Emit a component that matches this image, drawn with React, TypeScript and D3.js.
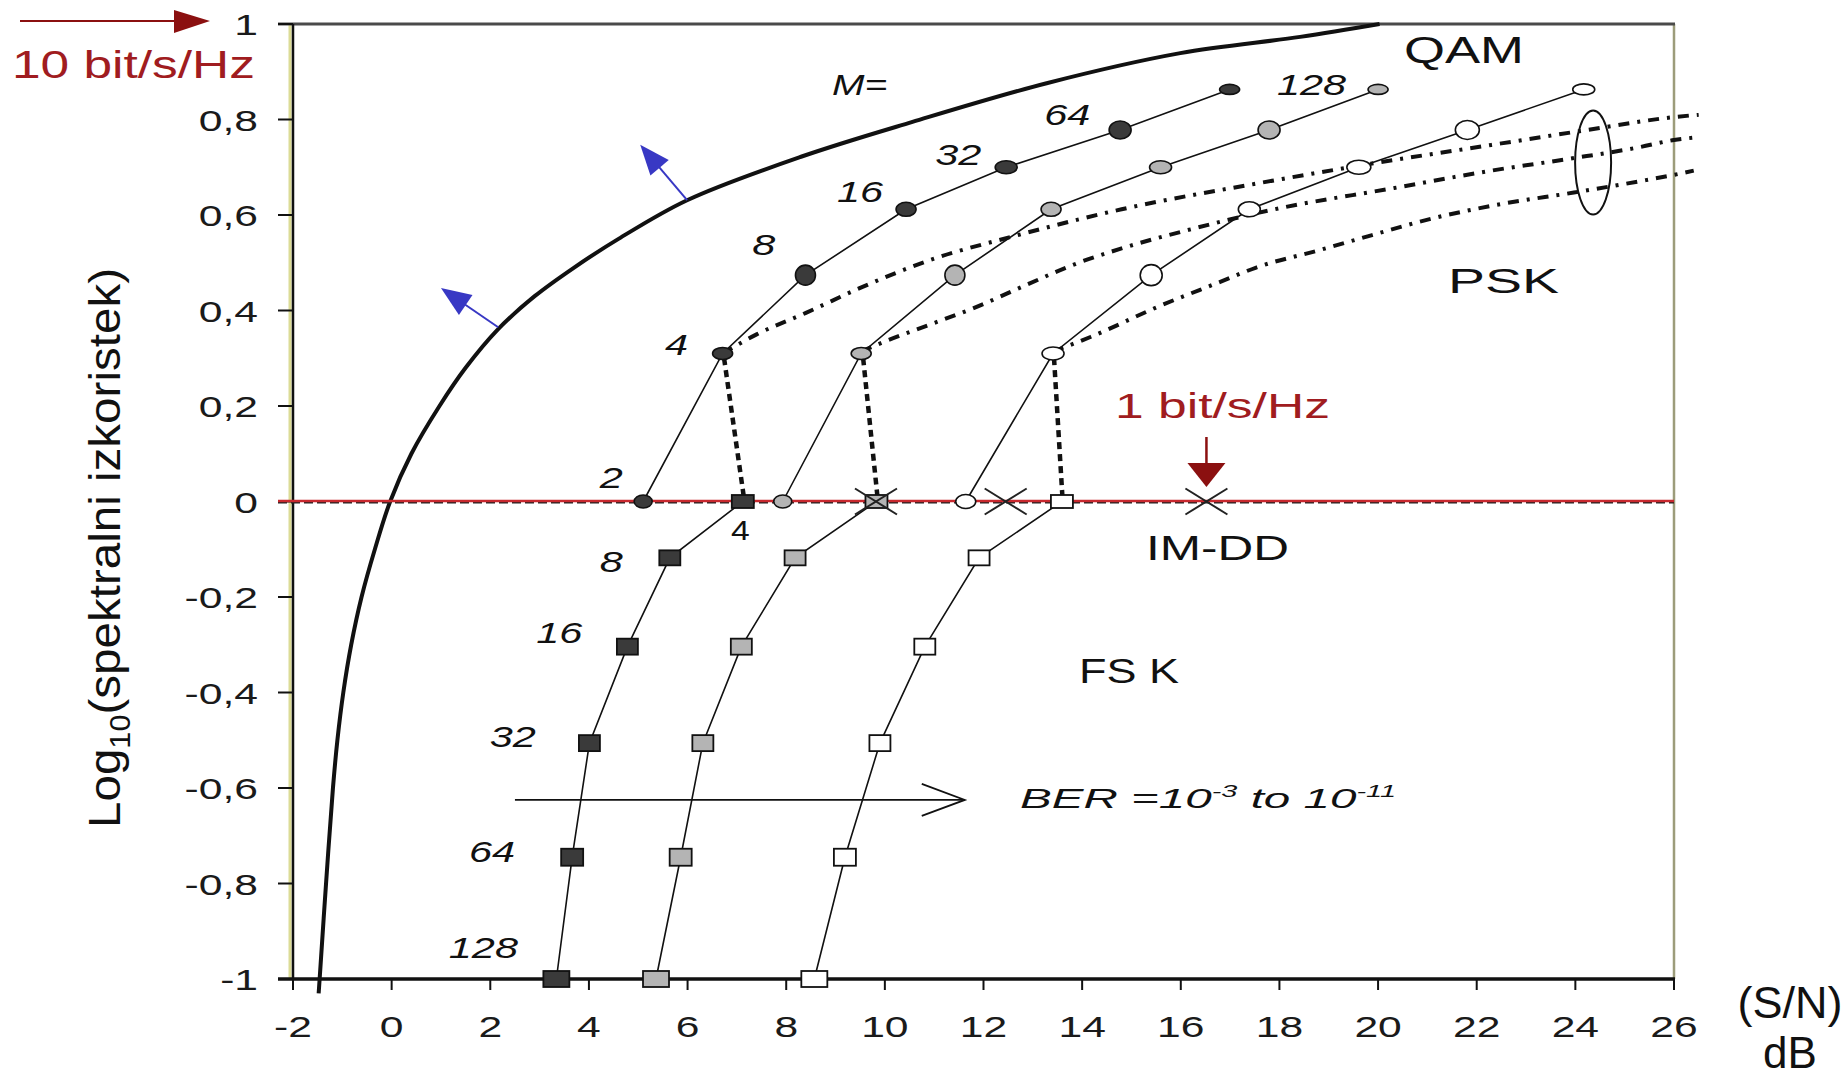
import React from 'react';
import * as d3 from 'd3';

// ---------- data ----------
const X_TICKS = [-2, 0, 2, 4, 6, 8, 10, 12, 14, 16, 18, 20, 22, 24, 26];
const Y_TICKS = [-1, -0.8, -0.6, -0.4, -0.2, 0, 0.2, 0.4, 0.6, 0.8, 1];

const M_QAM = ['2', '4', '8', '16', '32', '64', '128'];
const QAM_Y = [0, 0.31, 0.474, 0.612, 0.7, 0.778, 0.863];
const QAM_X_DARK = [5.1, 6.71, 8.39, 10.43, 12.46, 14.77, 16.99];
const QAM_X_GRAY = [7.93, 9.52, 11.42, 13.37, 15.59, 17.79, 20.0];
const QAM_X_WHITE = [11.64, 13.41, 15.4, 17.39, 19.61, 21.81, 24.17];

const M_FSK = ['4', '8', '16', '32', '64', '128'];
const FSK_Y = [0, -0.118, -0.304, -0.506, -0.745, -1.0];
const FSK_X_DARK = [7.12, 5.64, 4.78, 4.01, 3.66, 3.34];
const FSK_X_GRAY = [9.83, 8.18, 7.09, 6.31, 5.86, 5.36];
const FSK_X_WHITE = [13.59, 11.91, 10.81, 9.9, 9.19, 8.57];

const IMDD_X = [9.82, 12.45, 16.52];

const PSK_DARK: [number, number][] = [
  [6.71, 0.31], [7.4, 0.35], [8.4, 0.395], [9.56, 0.45], [10.9, 0.505], [12.7, 0.558],
  [14.8, 0.612], [17.6, 0.667], [19.6, 0.703], [22.5, 0.75], [24.05, 0.775], [26.0, 0.805], [26.5, 0.81],
];
const PSK_GRAY: [number, number][] = [
  [9.52, 0.314], [10.0, 0.335], [10.9, 0.37], [11.8, 0.405], [12.9, 0.455], [13.8, 0.495],
  [14.8, 0.53], [16.2, 0.57], [17.9, 0.612], [20.3, 0.656], [22.3, 0.693], [23.9, 0.718],
  [25.3, 0.742], [26.0, 0.757], [26.4, 0.762],
];
const PSK_WHITE: [number, number][] = [
  [13.41, 0.314], [14.18, 0.345], [15.54, 0.408], [16.8, 0.46], [17.53, 0.49], [18.83, 0.527],
  [19.88, 0.558], [21.11, 0.593], [22.5, 0.623], [23.97, 0.647], [25.43, 0.673], [26.0, 0.684], [26.4, 0.693],
];

// QPSK -> 4-FSK links
const LINKS: [number, number][][] = [
  [[6.74, 0.3], [7.14, 0.01]],
  [[9.56, 0.3], [9.85, 0.01]],
  [[13.43, 0.3], [13.6, 0.01]],
];

// Shannon bound
const SHANNON: [number, number][] = [
  [-1.48, -1.03], [-1.46, -1.0], [-1.33, -0.8], [-1.19, -0.6], [-1.1, -0.5], [-0.98, -0.4],
  [-0.82, -0.3], [-0.61, -0.2], [-0.34, -0.1], [-0.03, 0.0], [0.4, 0.1], [0.97, 0.2],
  [1.5, 0.28], [2.15, 0.36], [2.9, 0.43], [3.7, 0.49], [4.6, 0.55], [5.99, 0.631],
  [8.3, 0.722], [10.56, 0.795], [13.28, 0.876], [15.99, 0.939], [18.42, 0.973], [20.03, 1.0],
];

// ---------- styles ----------
const FONT = '"Liberation Sans", Arial, Helvetica, sans-serif';
const QAM_RX = [9, 10, 10, 10, 11, 11, 10];
const QAM_RY = [6.5, 6, 10, 7, 6.5, 9, 5];
const FSK_W = [22, 21, 21, 21, 22, 26];
const FSK_H = [13, 15, 16, 16, 17, 16];
const DARK = '#3a3a3a';
const GRAY = '#b4b4b4';
const WHITE = '#ffffff';
const RED = '#a01c20';
const BLUE = '#3838c4';

const W = 1848;
const H = 1079;
const L = 293, R = 1674, T = 24, B = 979;

const x = d3.scaleLinear().domain([-2, 26]).range([L, R]);
const y = d3.scaleLinear().domain([-1, 1]).range([B, T]);

const line = d3.line<[number, number]>().x(d => x(d[0])).y(d => y(d[1]));
const smooth = d3.line<[number, number]>().x(d => x(d[0])).y(d => y(d[1])).curve(d3.curveCatmullRom.alpha(0.5));
const mono = d3.line<[number, number]>().x(d => x(d[0])).y(d => y(d[1])).curve(d3.curveMonotoneX);

function SText(p: { x: number; y: number; sx?: number; size: number; anchor?: string; italic?: boolean; fill?: string; children: any }) {
  return (
    <text
      transform={`translate(${p.x},${p.y}) scale(${p.sx ?? 1},1)`}
      fontSize={p.size}
      textAnchor={p.anchor ?? 'start'}
      fontStyle={p.italic ? 'italic' : 'normal'}
      fill={p.fill ?? '#111'}
      fontFamily={FONT}
    >
      {p.children}
    </text>
  );
}

function Arrow({ x1, y1, x2, y2, color, len = 30, half = 12, width = 2 }: any) {
  const dx = x2 - x1, dy = y2 - y1;
  const d = Math.hypot(dx, dy);
  const ux = dx / d, uy = dy / d;
  const bx = x2 - ux * len, by = y2 - uy * len;
  const px = -uy, py = ux;
  return (
    <g>
      <line x1={x1} y1={y1} x2={bx + ux * 4} y2={by + uy * 4} stroke={color} strokeWidth={width} />
      <polygon points={`${x2},${y2} ${bx + px * half},${by + py * half} ${bx - px * half},${by - py * half}`} fill={color} />
    </g>
  );
}

export default function App() {
  const qamSeries = [
    { xs: QAM_X_DARK, fill: DARK, grow: 0 },
    { xs: QAM_X_GRAY, fill: GRAY, grow: 0 },
    { xs: QAM_X_WHITE, fill: WHITE, grow: 1 },
  ];
  const fskSeries = [
    { xs: FSK_X_DARK, fill: DARK },
    { xs: FSK_X_GRAY, fill: GRAY },
    { xs: FSK_X_WHITE, fill: WHITE },
  ];
  const pskLines = [PSK_DARK, PSK_GRAY, PSK_WHITE];
  const y0 = y(0);

  return (
    <svg width={W} height={H} style={{ position: 'absolute', left: 0, top: 0, background: '#fff' }} fontFamily={FONT}>
      <rect x={0} y={0} width={W} height={H} fill="#fff" />

      {/* frame */}
      <line x1={L - 3} y1={T} x2={L - 3} y2={B} stroke="#dcdc96" strokeWidth={3} />
      <line x1={R} y1={T} x2={R} y2={B} stroke="#9c9c7a" strokeWidth={2.5} />
      <line x1={L - 15} y1={T} x2={R + 1} y2={T} stroke="#4a4a4a" strokeWidth={3} />
      <line x1={L} y1={T} x2={L} y2={B} stroke="#111" strokeWidth={2.5} />
      <line x1={L - 15} y1={B} x2={R + 1} y2={B} stroke="#111" strokeWidth={3.5} />

      {Y_TICKS.map(t => (
        <g key={'yt' + t}>
          <line x1={L - 15} x2={L} y1={y(t)} y2={y(t)} stroke="#111" strokeWidth={2} />
          <SText x={258} y={y(t) + 11} size={30} sx={1.42} anchor="end" fill="#1a1a1a">
            {String(Math.round(t * 10) / 10).replace('.', ',')}
          </SText>
        </g>
      ))}
      {X_TICKS.map(t => (
        <g key={'xt' + t}>
          <line x1={x(t)} x2={x(t)} y1={B} y2={B + 11} stroke="#111" strokeWidth={2} />
          <SText x={x(t)} y={1037} size={30} sx={1.42} anchor="middle" fill="#1a1a1a">
            {String(t)}
          </SText>
        </g>
      ))}

      {/* axis titles */}
      <text transform="translate(120,548) rotate(-90)" textAnchor="middle" fontSize={45} fill="#111"
        textLength={560} lengthAdjust="spacingAndGlyphs">
        Log<tspan fontSize={29} dy={10}>10</tspan><tspan dy={-10}>(spektralni izkoristek)</tspan>
      </text>
      <text x={1790} y={1018} textAnchor="middle" fontSize={45} fill="#111">(S/N)</text>
      <text x={1790} y={1068} textAnchor="middle" fontSize={44} fill="#111">dB</text>

      {/* Shannon bound */}
      <path d={smooth(SHANNON) || ''} fill="none" stroke="#111" strokeWidth={4} strokeLinejoin="round" />

      {/* FSK lines */}
      {fskSeries.map((s, i) => (
        <path key={'fl' + i} d={line(s.xs.map((v, j) => [v, FSK_Y[j]] as [number, number])) || ''} fill="none" stroke="#111" strokeWidth={1.6} />
      ))}
      {/* QAM lines */}
      {qamSeries.map((s, i) => (
        <path key={'ql' + i} d={line(s.xs.map((v, j) => [v, QAM_Y[j]] as [number, number])) || ''} fill="none" stroke="#111" strokeWidth={1.6} />
      ))}
      {/* PSK dash-dot lines */}
      {pskLines.map((p, i) => (
        <path key={'pl' + i} d={mono(p) || ''} fill="none" stroke="#111" strokeWidth={4} strokeDasharray="11,8,3,8" />
      ))}
      {/* QPSK to 4-FSK links */}
      {LINKS.map((p, i) => (
        <path key={'lk' + i} d={line(p) || ''} fill="none" stroke="#111" strokeWidth={4.5} strokeDasharray="7,5" />
      ))}

      {/* zero line */}
      <line x1={L - 15} x2={R} y1={y0 + 1} y2={y0 + 1} stroke="#222" strokeWidth={2} strokeDasharray="9,4" />
      <line x1={L - 15} x2={R} y1={y0 - 0.5} y2={y0 - 0.5} stroke="#c8282e" strokeWidth={2.4} />

      {/* FSK markers */}
      {fskSeries.map((s, i) => s.xs.map((v, j) => (
        <rect key={'fm' + i + '-' + j} x={x(v) - FSK_W[j] / 2} y={y(FSK_Y[j]) - FSK_H[j] / 2} width={FSK_W[j]} height={FSK_H[j]}
          fill={s.fill} stroke="#111" strokeWidth={1.8} />
      )))}
      {/* QAM markers */}
      {qamSeries.map((s, i) => s.xs.map((v, j) => (
        <ellipse key={'qm' + i + '-' + j} cx={x(v)} cy={y(QAM_Y[j])} rx={QAM_RX[j] + s.grow} ry={QAM_RY[j] + s.grow * 0.5}
          fill={s.fill} stroke="#111" strokeWidth={1.6} />
      )))}

      {/* IM-DD crosses */}
      {IMDD_X.map((v, i) => (
        <g key={'x' + i} stroke="#222" strokeWidth={2}>
          <line x1={x(v) - 21} y1={y0 - 13} x2={x(v) + 21} y2={y0 + 13} />
          <line x1={x(v) - 21} y1={y0 + 13} x2={x(v) + 21} y2={y0 - 13} />
        </g>
      ))}

      {/* ellipse around PSK curves */}
      <ellipse cx={x(24.36)} cy={y(0.71)} rx={18} ry={52} fill="none" stroke="#111" strokeWidth={2} />

      {/* M labels, QAM side */}
      <SText x={x(8.93)} y={y(0.851)} size={30} sx={1.3} italic>M=</SText>
      {[
        [4.22, 0.028], [5.54, 0.307], [7.31, 0.516], [9.03, 0.627], [11.02, 0.705], [13.23, 0.789], [17.95, 0.851],
      ].map((p, i) => (
        <SText key={'qlab' + i} x={x(p[0])} y={y(p[1])} size={30} sx={1.38} italic>{M_QAM[i]}</SText>
      ))}
      {/* M labels, FSK side */}
      <SText x={x(6.88)} y={y(-0.081)} size={28} sx={1.2}>{M_FSK[0]}</SText>
      {[
        [4.22, -0.148], [2.93, -0.296], [1.99, -0.514], [1.57, -0.755], [1.16, -0.956],
      ].map((p, i) => (
        <SText key={'flab' + i} x={x(p[0])} y={y(p[1])} size={30} sx={1.38} italic>{M_FSK[i + 1]}</SText>
      ))}

      {/* region labels */}
      <text x={1404} y={63} fontSize={37} textLength={120} lengthAdjust="spacingAndGlyphs" fill="#111">QAM</text>
      <text x={1448} y={293} fontSize={35} textLength={111} lengthAdjust="spacingAndGlyphs" fill="#111">PSK</text>
      <text x={1146} y={560} fontSize={35} textLength={143} lengthAdjust="spacingAndGlyphs" fill="#111">IM-DD</text>
      <text x={1079} y={683} fontSize={35} textLength={100} lengthAdjust="spacingAndGlyphs" fill="#111">FS K</text>

      {/* BER arrow */}
      <line x1={x(2.5)} x2={x(11.62)} y1={y(-0.625)} y2={y(-0.625)} stroke="#111" strokeWidth={1.8} />
      <polyline points={`${x(11.62) - 43},${y(-0.625) - 16} ${x(11.62)},${y(-0.625)} ${x(11.62) - 43},${y(-0.625) + 16}`}
        fill="none" stroke="#111" strokeWidth={1.8} />
      <SText x={1020} y={808} size={28} sx={1.7} italic>
        BER =10<tspan fontSize={17} dy={-11}>-3</tspan><tspan dy={11}> to 10</tspan><tspan fontSize={17} dy={-11}>-11</tspan>
      </SText>

      {/* blue arrows */}
      <Arrow x1={x(2.16)} y1={y(0.365)} x2={x(1.0)} y2={y(0.447)} color={BLUE} len={30} half={12} width={2} />
      <Arrow x1={x(5.99)} y1={y(0.631)} x2={x(5.04)} y2={y(0.747)} color={BLUE} len={30} half={12} width={2} />

      {/* red annotations */}
      <line x1={20} y1={21} x2={178} y2={21} stroke="#8b1010" strokeWidth={2.2} />
      <polygon points="174,10 210,21 174,33" fill="#8b1010" />
      <text x={12} y={78} fontSize={38} textLength={243} lengthAdjust="spacingAndGlyphs" fill={RED}>10 bit/s/Hz</text>

      <text x={1115} y={418} fontSize={35} textLength={215} lengthAdjust="spacingAndGlyphs" fill={RED}>1 bit/s/Hz</text>
      <line x1={x(IMDD_X[2])} x2={x(IMDD_X[2])} y1={437} y2={467} stroke="#8b1010" strokeWidth={2.5} />
      <polygon points={`${x(IMDD_X[2]) - 19},463 ${x(IMDD_X[2]) + 19},463 ${x(IMDD_X[2])},487`} fill="#8b1010" />
    </svg>
  );
}
